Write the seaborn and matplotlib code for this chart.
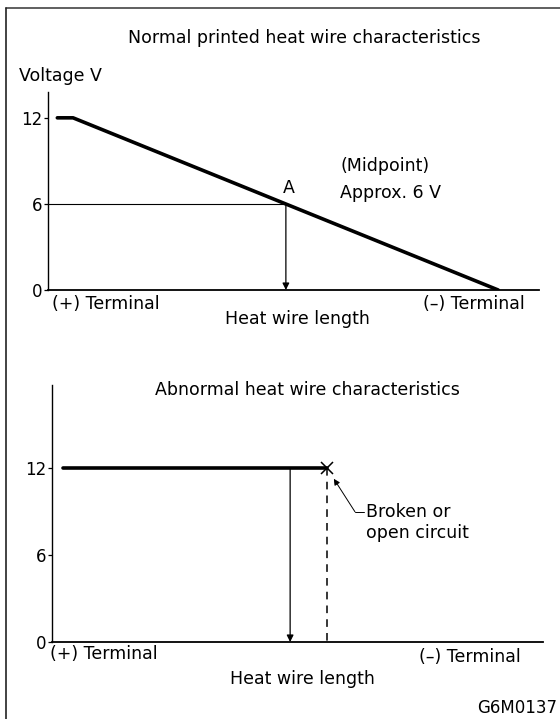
import pandas as pd
import seaborn as sns
import matplotlib.pyplot as plt
from matplotlib.lines import Line2D

# values (x = percent of heat wire length, y = volts)
normal_x = [2.0, 5.2, 91.7]
normal_v = [12, 12, 0]
midpoint_x = 48.5
midpoint_v = 6

broken_x = [2.3, 56.0]
broken_v = [12, 12]
probe_x = 48.5

yticks = [0, 6, 12]
ytick_labels = ["0", "6", "12"]

sns.set_style("white")
plt.rcParams['font.family'] = ['DejaVu Sans']
plt.rcParams['text.color'] = 'black'
plt.rcParams['ytick.color'] = 'black'
plt.rcParams['ytick.labelcolor'] = 'black'
FS = 12.5

W, H = 560, 719
fig = plt.figure(figsize=(5.6, 7.19), dpi=100)

def fx(px):
    return px / W

def fy(py):
    return 1 - py / H

# frame (top + left only)
fig.add_artist(Line2D([fx(6), fx(560)], [fy(8), fy(8)], color="#444", lw=1.2))
fig.add_artist(Line2D([fx(6), fx(6)], [fy(8), fy(719)], color="#222", lw=1.2))

def style_axis(ax, ytop):
    ax.set_xlim(0, 100)
    ax.set_ylim(0, ytop)
    ax.set_yticks(yticks)
    ax.set_yticklabels(ytick_labels, fontsize=12)
    ax.set_xticks([])
    ax.tick_params(axis="y", direction="out", length=3, width=0.9, pad=1, left=True,
                   colors="black")
    for s in ["top", "right"]:
        ax.spines[s].set_visible(False)
    ax.spines["left"].set_linewidth(1.0)
    ax.spines["bottom"].set_linewidth(1.3)
    ax.spines["left"].set_color("black")
    ax.spines["bottom"].set_color("black")
    ax.set_xlabel("")
    ax.set_ylabel("")
    ax.patch.set_alpha(0)

# --- top chart: normal
ax1 = fig.add_axes([fx(47.5), fy(290), fx(491.5), 198 / H])
df1 = pd.DataFrame({"x": normal_x, "v": normal_v})
sns.lineplot(data=df1, x="x", y="v", ax=ax1, color="black", lw=2.6, sort=False)
ax1.plot([0, midpoint_x], [midpoint_v, midpoint_v], color="black", lw=0.8)
ax1.annotate("", xy=(midpoint_x, 0), xytext=(midpoint_x, midpoint_v),
             arrowprops=dict(arrowstyle="-|>", color="black", lw=0.9,
                             mutation_scale=10, shrinkA=0, shrinkB=0))
style_axis(ax1, 13.8)

fig.text(fx(289), fy(188), "A", ha="center", va="center", fontsize=FS)
fig.text(fx(304), fy(38), "Normal printed heat wire characteristics", ha="center", va="center", fontsize=FS)
fig.text(fx(19), fy(76), "Voltage V", ha="left", va="center", fontsize=FS)
fig.text(fx(340), fy(166), "(Midpoint)", ha="left", va="center", fontsize=FS)
fig.text(fx(340), fy(193), "Approx. 6 V", ha="left", va="center", fontsize=FS)
fig.text(fx(52), fy(304), "(+) Terminal", ha="left", va="center", fontsize=FS)
fig.text(fx(525), fy(304), "(–) Terminal", ha="right", va="center", fontsize=FS)
fig.text(fx(297), fy(319), "Heat wire length", ha="center", va="center", fontsize=FS)

# --- bottom chart: abnormal
ax2 = fig.add_axes([fx(52), fy(642), fx(491), 257 / H])
df2 = pd.DataFrame({"x": broken_x, "v": broken_v})
sns.lineplot(data=df2, x="x", y="v", ax=ax2, color="black", lw=2.6)
ax2.plot([broken_x[1]], [broken_v[1]], marker="x", color="black", ms=9, mew=1.1)
ax2.plot([broken_x[1], broken_x[1]], [broken_v[1], 0], color="black", lw=1.1,
         dashes=(5, 4))
ax2.annotate("", xy=(probe_x, 0), xytext=(probe_x, broken_v[0]),
             arrowprops=dict(arrowstyle="-|>", color="black", lw=0.9,
                             mutation_scale=10, shrinkA=0, shrinkB=0))
# leader from label to the break point
ax2.plot([61.7, 63.6], [8.97, 8.97], color="black", lw=0.7)
ax2.annotate("", xy=(57.4, 11.24), xytext=(61.7, 8.97),
             arrowprops=dict(arrowstyle="-|>", color="black", lw=0.7,
                             mutation_scale=9, shrinkA=0, shrinkB=0))
style_axis(ax2, 17.7)

fig.text(fx(307), fy(390), "Abnormal heat wire characteristics", ha="center", va="center", fontsize=FS)
fig.text(fx(366), fy(512), "Broken or", ha="left", va="center", fontsize=FS)
fig.text(fx(366), fy(533), "open circuit", ha="left", va="center", fontsize=FS)
fig.text(fx(50), fy(654), "(+) Terminal", ha="left", va="center", fontsize=FS)
fig.text(fx(521), fy(657), "(–) Terminal", ha="right", va="center", fontsize=FS)
fig.text(fx(302), fy(679), "Heat wire length", ha="center", va="center", fontsize=FS)
fig.text(fx(557), fy(708), "G6M0137", ha="right", va="center", fontsize=12)

fig.savefig("out.png", dpi=100)
